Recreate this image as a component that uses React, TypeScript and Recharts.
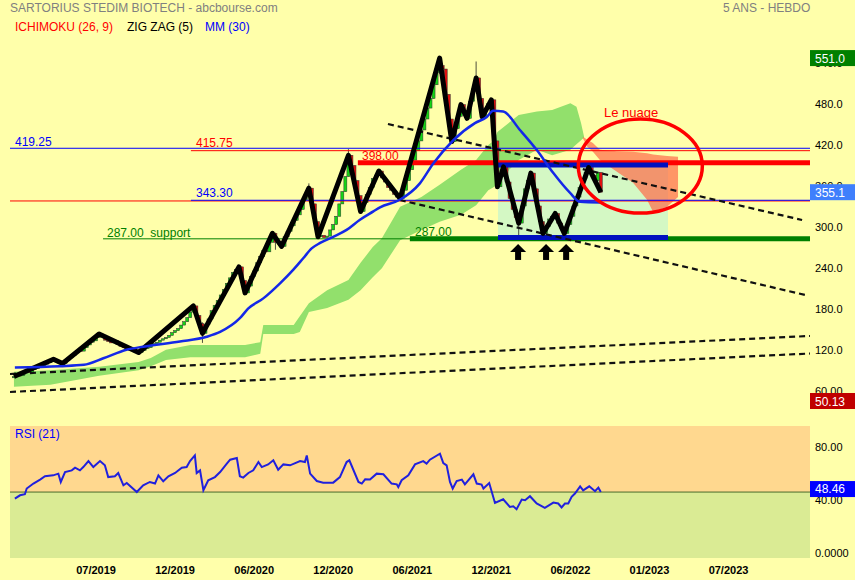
import React from "react";
import { ComposedChart, Line, Area, Bar, Scatter, XAxis, YAxis } from "recharts";

// weekly closes, week 0 = mid Dec 2018
const closes = [
  86, 88, 87, 91, 93, 92, 96, 98, 101, 100,
  104, 106, 108, 111, 108, 107, 105, 110, 114, 117,
  121, 124, 123, 128, 132, 136, 138, 143, 148, 144,
  139, 137, 135, 138, 133, 130, 128, 126, 125, 124,
  123, 121, 124, 127, 128, 132, 134, 136, 139, 141,
  143, 146, 150, 153, 156, 161, 166, 172, 180, 189,
  175, 163, 149, 162, 170, 182, 190, 197, 205, 213,
  222, 230, 238, 242, 246, 226, 208, 218, 232, 240,
  252, 261, 270, 268, 282, 295, 282, 283, 276, 290,
  298, 306, 314, 322, 330, 344, 352, 361, 338, 312,
  290, 292, 289, 291, 300, 308, 320, 338, 356, 378,
  409, 394, 372, 350, 327, 340, 352, 362, 375, 380,
  386, 376, 370, 362, 358, 352, 348, 346, 358, 372,
  388, 402, 416, 430, 446, 462, 478, 492, 512, 530,
  540, 535, 498, 462, 429, 448, 466, 483, 470, 463,
  488, 506, 522, 492, 465, 478, 485, 490, 430, 363,
  378, 392, 370, 346, 330, 318, 310, 335, 360, 372,
  383, 360, 335, 312, 295, 305, 316, 320, 324, 310,
  302, 295, 308, 320, 335, 348, 362, 375, 384, 391,
  380, 372, 384, 355.1,
];
const firstOpen = 84;
// [week, high, low] for the visible long shadows
const wicks = [
  [62, 165, 135], [86, 296, 271], [97, 368, 350], [110, 418, 390],
  [140, 551, 528], [152, 546, 510], [166, 320, 288], [174, 305, 287], [181, 300, 286],
];

const zigzag = [
  [0, 86], [13, 111], [16, 105], [28, 148], [41, 121], [59, 189], [62, 149], [74, 246],
  [76, 208], [85, 295], [88, 276], [97, 361], [100, 290], [110, 409], [114, 327],
  [120, 386], [127, 346], [140, 551], [144, 429], [147, 483], [149, 463], [152, 522],
  [154, 465], [157, 490], [159, 363], [161, 392], [166, 310], [170, 383], [174, 295],
  [178, 324], [181, 295], [189, 391], [193, 355],
];

const mm30 = [
  [0.3, 99], [15, 101], [23, 103], [29.4, 112.5], [37, 125], [42.5, 129.5], [54.6, 137],
  [63.4, 144], [67.8, 151], [74.3, 171], [77, 185], [82, 200], [87.5, 222], [91.9, 242],
  [95.2, 259], [97.9, 273], [100.7, 281], [105, 290], [109.4, 300], [113.8, 315],
  [118.2, 327], [120.4, 333], [126.9, 344], [133.5, 368], [137.9, 397], [144.5, 431],
  [151.6, 456], [155.5, 465], [157.6, 474], [160.9, 473], [166.4, 446], [171.9, 417],
  [177.4, 383], [182.9, 354], [186.2, 341], [192.7, 340],
];

// ichimoku cloud [week, bottom, top]
const cloudGreen = [
  [0, 71, 93], [12, 74, 95], [28, 87, 100], [41, 95, 107], [45, 101, 113], [50, 110, 125],
  [58, 114, 132], [76, 114, 132], [81, 119, 136], [82, 148, 161], [92, 148, 161],
  [94, 151, 174], [97, 180, 193], [103, 186, 212], [110, 198, 227], [114, 212, 252],
  [118, 231, 275], [121, 244, 288], [127, 285, 334], [134, 300, 348], [140, 312, 366],
  [147, 322, 388], [152, 336, 402], [156, 358, 424], [158, 363, 431], [159, 370, 443],
  [166, 402, 468], [172, 417, 473], [177, 409, 475], [183, 417, 485], [185, 425, 480],
  [186.5, 431, 456], [187.5, 435, 436],
];
const cloudRed = [
  [187.1, 434, 436], [188.5, 422, 432], [190.4, 414, 427], [192.7, 402, 417],
  [198.3, 385, 415], [203.6, 369, 414], [208.2, 344, 412], [210.2, 326, 410],
  [214.8, 334, 408], [218.4, 348, 407],
];

const rsi = [
  [0.3, 43.5], [2, 46], [3.6, 46.8], [4.2, 51.1], [6.4, 54.9], [8.6, 57.9], [10.2, 60.4],
  [12.9, 61.1], [14.6, 62.4], [15.4, 56.1], [16.8, 63.6], [19, 64.9], [20.1, 66.9],
  [21.7, 64.9], [22.8, 67.4], [24.5, 71.9], [26.1, 67.4], [28.3, 71.9], [29.9, 68.7],
  [31, 59.8], [33.2, 60.4], [34.3, 62.9], [36, 53.6], [37.1, 55.3], [40.4, 48.5],
  [42.5, 53.6], [44.7, 56.1], [46.4, 54.9], [47.5, 61.1], [49.1, 56.6], [50.8, 60.4],
  [53, 62.9], [55.2, 66.9], [56.8, 67.4], [57.9, 71.9], [59.5, 76.2], [60.1, 62.9],
  [61.2, 64.9], [62.3, 49.8], [63.9, 57.4], [66.1, 59.8], [67.8, 63.6], [70, 70],
  [71.1, 73], [73.3, 74.2], [74.3, 60.4], [75.4, 59.4], [77.1, 62.9], [78.7, 64.9],
  [80.4, 71.2], [81.5, 67.4], [83.6, 69.4], [85.3, 72.5], [86.9, 65.4], [88.6, 69.4],
  [90.8, 68.7], [94.1, 71.9], [95.7, 71.2], [96.3, 76.2], [97.4, 62.4], [99.6, 56.8],
  [101.7, 55.6], [105, 55.6], [107.2, 59.8], [109.4, 71.2], [110.3, 72.5], [113.3, 56.1],
  [114.4, 54.9], [115.5, 58.1], [117.1, 57.9], [119.3, 62.4], [121.5, 61.9], [124.2, 54.9],
  [125.9, 54.3], [126.4, 52.2], [127.5, 57.4], [129.7, 61.1], [131.9, 69.4], [134.6, 71.9],
  [135.7, 70], [136.8, 73], [140.1, 77.5], [141.2, 70.4], [142.3, 68.7], [143.4, 56.1],
  [144.3, 51.1], [145.6, 56.8], [147.3, 57.9], [148.3, 54.3], [151.1, 61.9], [152.2, 54.9],
  [153.8, 54.1], [154.4, 51.1], [156.3, 55.3], [158.2, 40.2], [160.9, 43], [163.1, 37.2],
  [164.2, 37.7], [165.3, 35.5], [167, 42.8], [168.1, 42.3], [169.7, 45.3], [171.9, 39.8],
  [174.6, 36.5], [177.4, 40.5], [179, 39.8], [180.1, 36.8], [181.2, 39.8], [182.3, 39.8],
  [183.4, 44.8], [184.5, 47.3], [186.2, 52.8], [187.2, 49.8], [189.2, 52.8], [191.1, 49.1],
  [192.2, 51.8], [193, 48.46],
];

const dateTicks = [27, 53, 79, 105, 131, 157, 183, 209, 235];
const dateLabels = ["07/2019", "12/2019", "06/2020", "12/2020", "06/2021", "12/2021", "06/2022", "01/2023", "07/2023"];
const priceTicks = [60, 120, 180, 240, 300, 360, 420, 480, 540];
const lastClose = 355.1;
const highest = 551.0;
const lowest = 50.13;
const rsiTicks = [0, 40, 80];
const rsiLast = 48.46;

// horizontal levels and trend lines, [fromWeek, toWeek, value(s)]
const W0 = -1.3;
const W1 = 261.8;
const blue419 = 419.25;
const red415 = 415.75;
const blue343 = 343.3;
const red342 = 342.3;
const red398 = 398.0;
const support287 = 287.0;
const rangeBox = [159.2, 215.1, 289, 395];
const trendDown1 = [[123, 454.7], [259.2, 314.5]];
const trendDown2 = [[126.9, 343.7], [260.2, 205.0]];
const trendUp1 = [[W0, 89.6], [W1, 145.1]];
const trendUp2 = [[W0, 63.3], [W1, 119.5]];
const arrows = [[165.8, 279.5], [175, 279.5], [181.6, 279.5]];
const cloudCircle = [[206, 393.3]];

const candles = closes.map((c, i) => {
  const open = i === 0 ? firstOpen : closes[i - 1];
  const wk = wicks.find((k) => k[0] === i);
  const high = wk ? Math.max(wk[1], open, c) : Math.max(open, c);
  const low = wk ? Math.min(wk[2], open, c) : Math.min(open, c);
  return { w: i, open, close: c, high, low, hl: [low, high] };
});
const pts = (arr: number[][]) => arr.map(([w, v]) => ({ w, v }));
const band = (arr: number[][]) => arr.map(([w, lo, hi]) => ({ w, range: [lo, hi] }));
const seg = (a: number, b: number, v: number) => [{ w: a, v }, { w: b, v }];

const FONT = "'Liberation Sans', Arial, sans-serif";

function Candle(props: any) {
  const { x, y, width, height, payload } = props;
  if (x == null || y == null) return null;
  const top = Math.min(y, y + height);
  const h = Math.abs(height);
  const span = payload.high - payload.low || 1;
  const py = (val: number) => top + ((payload.high - val) / span) * h;
  const up = payload.close >= payload.open;
  const bTop = py(Math.max(payload.open, payload.close));
  const bBot = py(Math.min(payload.open, payload.close));
  const cx = x + width / 2;
  return (
    <g>
      <line x1={cx} x2={cx} y1={top} y2={top + h} stroke="#222" strokeWidth={0.8} />
      <rect x={cx - 1.5} y={bTop} width={3} height={Math.max(1, bBot - bTop)}
        fill={up ? "#14d414" : "#e01010"} stroke="#333" strokeWidth={0.5} />
    </g>
  );
}

function Arrow(props: any) {
  const { cx, cy } = props;
  return (
    <g fill="#000">
      <polygon points={`${cx},${cy} ${cx - 8},${cy + 8} ${cx + 8},${cy + 8}`} />
      <rect x={cx - 3} y={cy + 8} width={6} height={8} />
    </g>
  );
}

function Ellipse(props: any) {
  const { cx, cy } = props;
  return <ellipse cx={cx} cy={cy} rx={62} ry={47} fill="none" stroke="#ff0000" strokeWidth={3.5} />;
}

function PriceTick(props: any) {
  const { x, y, payload } = props;
  const v = payload.value;
  const boxes: Record<string, string> = { [highest]: "#008000", [lastClose]: "#3f7ffc", [lowest]: "#c00000" };
  if (boxes[v]) {
    return (
      <g>
        <rect x={x - 5} y={y - 8} width={50} height={16} fill={boxes[v]} />
        <text x={x} y={y} dy={5} fill="#fff" fontSize={12}>{v === lowest ? v.toFixed(2) : v.toFixed(1)}</text>
      </g>
    );
  }
  return <text x={x} y={y} dy={1} fill="#000" fontSize={11}>{v.toPrecision(4)}</text>;
}

function RsiTick(props: any) {
  const { x, y, payload } = props;
  const v = payload.value;
  if (v === rsiLast) {
    return (
      <g>
        <rect x={x - 5} y={y - 11} width={50} height={16} fill="#0000ff" />
        <text x={x} y={y} dy={1} fill="#fff" fontSize={12}>{v.toFixed(2)}</text>
      </g>
    );
  }
  return <text x={x} y={y} dy={1} fill="#000" fontSize={11}>{v === 0 ? "0.0000" : v.toFixed(2)}</text>;
}

const txt = (left: number, top: number, color: string, size = 12): React.CSSProperties => ({
  position: "absolute", left, top, color, fontSize: size, lineHeight: `${size}px`, whiteSpace: "nowrap",
});

export default function App() {
  return (
    <div style={{ position: "absolute", left: 0, top: 0, width: 855, height: 580, background: "#ffffaa", fontFamily: FONT, overflow: "hidden" }}>
      <div style={{ position: "absolute", left: 0, top: 0 }}>
        <ComposedChart width={855} height={410} data={candles} margin={{ top: 40, right: 0, bottom: 9, left: 10 }}>
          <XAxis dataKey="w" type="number" domain={[W0, W1]} allowDataOverflow hide />
          <YAxis type="number" orientation="right" width={45} domain={[lowest, 577.4]} allowDataOverflow
            ticks={[...priceTicks, lastClose, highest, lowest]} interval={0} tickSize={3} tickMargin={2}
            tickLine={false} axisLine={false} tick={<PriceTick />} />
          <Area data={band([[rangeBox[0], rangeBox[2], rangeBox[3]], [rangeBox[1], rangeBox[2], rangeBox[3]]])}
            dataKey="range" type="linear" fill="#d4f8c4" fillOpacity={1} stroke="none" isAnimationActive={false} />
          <Area data={band(cloudGreen)} dataKey="range" type="linear" fill="#92e06c" fillOpacity={1} stroke="none" isAnimationActive={false} />
          <Area data={band(cloudRed)} dataKey="range" type="linear" fill="#ff6a48" fillOpacity={0.7} stroke="none" isAnimationActive={false} />
          <Bar dataKey="hl" barSize={3} shape={<Candle />} isAnimationActive={false} />
          <Line data={seg(W0, W1, blue419)} dataKey="v" stroke="#0000ff" strokeWidth={1} dot={false} isAnimationActive={false} />
          <Line data={seg(58.2, W1, red415)} dataKey="v" stroke="#ff0000" strokeWidth={1} dot={false} isAnimationActive={false} />
          <Line data={seg(W0, W1, red342)} dataKey="v" stroke="#ff0000" strokeWidth={1} dot={false} isAnimationActive={false} />
          <Line data={seg(58.2, W1, blue343)} dataKey="v" stroke="#0000ff" strokeWidth={1} dot={false} isAnimationActive={false} />
          <Line data={seg(29.3, W1, support287)} dataKey="v" stroke="#008000" strokeWidth={1} dot={false} isAnimationActive={false} />
          <Line data={seg(130.2, W1, support287)} dataKey="v" stroke="#008000" strokeWidth={5} dot={false} isAnimationActive={false} />
          <Line data={seg(113.1, W1, red398)} dataKey="v" stroke="#ff0000" strokeWidth={5} dot={false} isAnimationActive={false} />
          <Line data={seg(rangeBox[0], rangeBox[1], rangeBox[3])} dataKey="v" stroke="#0010c0" strokeWidth={5} dot={false} isAnimationActive={false} />
          <Line data={seg(rangeBox[0], rangeBox[1], rangeBox[2])} dataKey="v" stroke="#0010c0" strokeWidth={5} dot={false} isAnimationActive={false} />
          {[trendDown1, trendDown2, trendUp1, trendUp2].map((t, i) => (
            <Line key={i} data={pts(t)} dataKey="v" stroke="#111" strokeWidth={2.2} strokeDasharray="6 4" dot={false} isAnimationActive={false} />
          ))}
          <Line data={pts(zigzag)} dataKey="v" type="linear" stroke="#000" strokeWidth={5} strokeLinejoin="round" dot={false} isAnimationActive={false} />
          <Line data={pts(mm30)} dataKey="v" type="monotone" stroke="#1428e8" strokeWidth={2.5} dot={false} isAnimationActive={false} />
          <Scatter data={pts(arrows)} dataKey="v" shape={<Arrow />} isAnimationActive={false} />
          <Scatter data={pts(cloudCircle)} dataKey="v" shape={<Ellipse />} isAnimationActive={false} />
        </ComposedChart>
      </div>

      <div style={{ position: "absolute", left: 0, top: 420 }}>
        <ComposedChart width={855} height={160} data={pts(rsi)} margin={{ top: 6, right: 0, bottom: 0, left: 10 }}>
          <XAxis dataKey="w" type="number" domain={[W0, W1]} allowDataOverflow ticks={dateTicks} interval={0}
            tickFormatter={(v: number) => dateLabels[dateTicks.indexOf(v)] ?? ""} height={22}
            tickLine={false} axisLine={false} tick={{ fill: "#000", fontSize: 11, fontWeight: "bold" }} />
          <YAxis type="number" orientation="right" width={45} domain={[-1.5, 98.5]} allowDataOverflow
            ticks={[...rsiTicks, rsiLast]} interval={0} tickSize={3} tickMargin={2}
            tickLine={false} axisLine={false} tick={<RsiTick />} />
          <Area data={band([[W0, rsiLast, 98.5], [W1, rsiLast, 98.5]])} dataKey="range" fill="#ffd88f" fillOpacity={1} stroke="none" isAnimationActive={false} />
          <Area data={band([[W0, -1.5, rsiLast], [W1, -1.5, rsiLast]])} dataKey="range" fill="#daeb94" fillOpacity={1} stroke="none" isAnimationActive={false} />
          <Line data={seg(W0, W1, rsiLast)} dataKey="v" stroke="#4a6a2a" strokeWidth={1} dot={false} isAnimationActive={false} />
          <Line dataKey="v" type="linear" stroke="#2020dd" strokeWidth={2} dot={false} isAnimationActive={false} />
        </ComposedChart>
      </div>

      <div style={txt(10, 2, "#808080")}>SARTORIUS STEDIM BIOTECH - abcbourse.com</div>
      <div style={txt(723, 2, "#808080")}>5 ANS - HEBDO</div>
      <div style={txt(15, 21, "#ff0000")}>ICHIMOKU (26, 9)</div>
      <div style={txt(127, 21, "#000")}>ZIG ZAG (5)</div>
      <div style={txt(205, 21, "#0000ff")}>MM (30)</div>
      <div style={txt(15, 428, "#0000ff")}>RSI (21)</div>
      <div style={txt(15, 136, "#0000ff")}>419.25</div>
      <div style={txt(196, 137, "#ff0000")}>415.75</div>
      <div style={txt(196, 187, "#0000ff")}>343.30</div>
      <div style={txt(107, 227, "#008000")}>287.00&nbsp;&nbsp;support</div>
      <div style={txt(362, 150, "#ff0000")}>398.00</div>
      <div style={txt(415, 226, "#008000")}>287.00</div>
      <div style={txt(604, 106, "#ff0000", 13)}>Le nuage</div>
    </div>
  );
}
